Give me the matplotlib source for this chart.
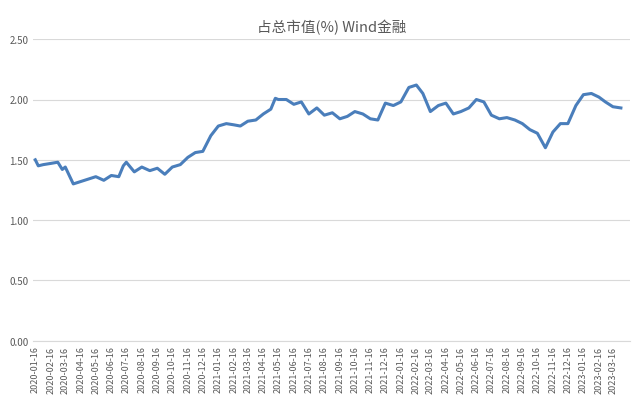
import matplotlib
matplotlib.use('Agg')
import matplotlib.pyplot as plt
import pandas as pd

plt.rcParams['font.family'] = ['Noto Sans CJK SC', 'DejaVu Sans']

dates = ["2020-01-16","2020-01-22","2020-02-01","2020-02-16","2020-03-01","2020-03-10","2020-03-16","2020-04-01","2020-04-16","2020-05-01","2020-05-16","2020-06-01","2020-06-16","2020-07-01","2020-07-10","2020-07-16","2020-08-01","2020-08-16","2020-09-01","2020-09-16","2020-10-01","2020-10-16","2020-11-01","2020-11-16","2020-12-01","2020-12-16",
"2021-01-01","2021-01-16","2021-02-01","2021-02-16","2021-03-01","2021-03-16","2021-04-01","2021-04-16","2021-05-01","2021-05-10","2021-05-16","2021-06-01","2021-06-16","2021-07-01","2021-07-16","2021-08-01","2021-08-16","2021-09-01","2021-09-16","2021-10-01","2021-10-16","2021-11-01","2021-11-16","2021-12-01","2021-12-16",
"2022-01-01","2022-01-16","2022-02-01","2022-02-16","2022-03-01","2022-03-16","2022-04-01","2022-04-16","2022-05-01","2022-05-16","2022-06-01","2022-06-16","2022-07-01","2022-07-16","2022-08-01","2022-08-16","2022-09-01","2022-09-16","2022-10-01","2022-10-16","2022-11-01","2022-11-16","2022-12-01","2022-12-16",
"2023-01-01","2023-01-16","2023-02-01","2023-02-16","2023-03-01","2023-03-16","2023-04-01"]
values = [1.50,1.45,1.46,1.47,1.48,1.42,1.44,1.30,1.32,1.34,1.36,1.33,1.37,1.36,1.45,1.48,1.40,1.44,1.41,1.43,1.38,1.44,1.46,1.52,1.56,1.57,
1.70,1.78,1.80,1.79,1.78,1.82,1.83,1.88,1.92,2.01,2.00,2.00,1.96,1.98,1.88,1.93,1.87,1.89,1.84,1.86,1.90,1.88,1.84,1.83,1.97,
1.95,1.98,2.10,2.12,2.05,1.90,1.95,1.97,1.88,1.90,1.93,2.00,1.98,1.87,1.84,1.85,1.83,1.80,1.75,1.72,1.60,1.73,1.80,1.80,
1.95,2.04,2.05,2.02,1.98,1.94,1.93]
title = "占总市值(%) Wind金融"
tick_dates = pd.date_range("2020-01-01", "2023-03-01", freq="MS") + pd.Timedelta(days=15)

fig, ax = plt.subplots(figsize=(6.4, 4.02), dpi=100)
fig.subplots_adjust(left=0.052, right=0.985, top=0.9, bottom=0.15)
ax.plot(pd.to_datetime(dates), values, color='#4a7ebb', lw=2.2)
ax.set_ylim(0, 2.5)
ax.set_yticks([0, 0.5, 1.0, 1.5, 2.0, 2.5])
ax.set_yticklabels([f"{v:.2f}" for v in [0, 0.5, 1.0, 1.5, 2.0, 2.5]], fontsize=7, color='#595959')
ax.set_xticks(tick_dates)
ax.set_xticklabels([d.strftime("%Y-%m-%d") for d in tick_dates], rotation=90, fontsize=6.5, color='#595959')
ax.set_xlim(pd.Timestamp("2020-01-12"), pd.Timestamp("2023-04-20"))
ax.grid(axis='y', color='#d9d9d9', lw=0.8)
for s in ['top', 'right', 'left']:
    ax.spines[s].set_visible(False)
ax.spines['bottom'].set_color('#d9d9d9')
ax.tick_params(length=0)
ax.set_title(title, fontsize=10.5, color='#595959')
fig.savefig("out.png")
